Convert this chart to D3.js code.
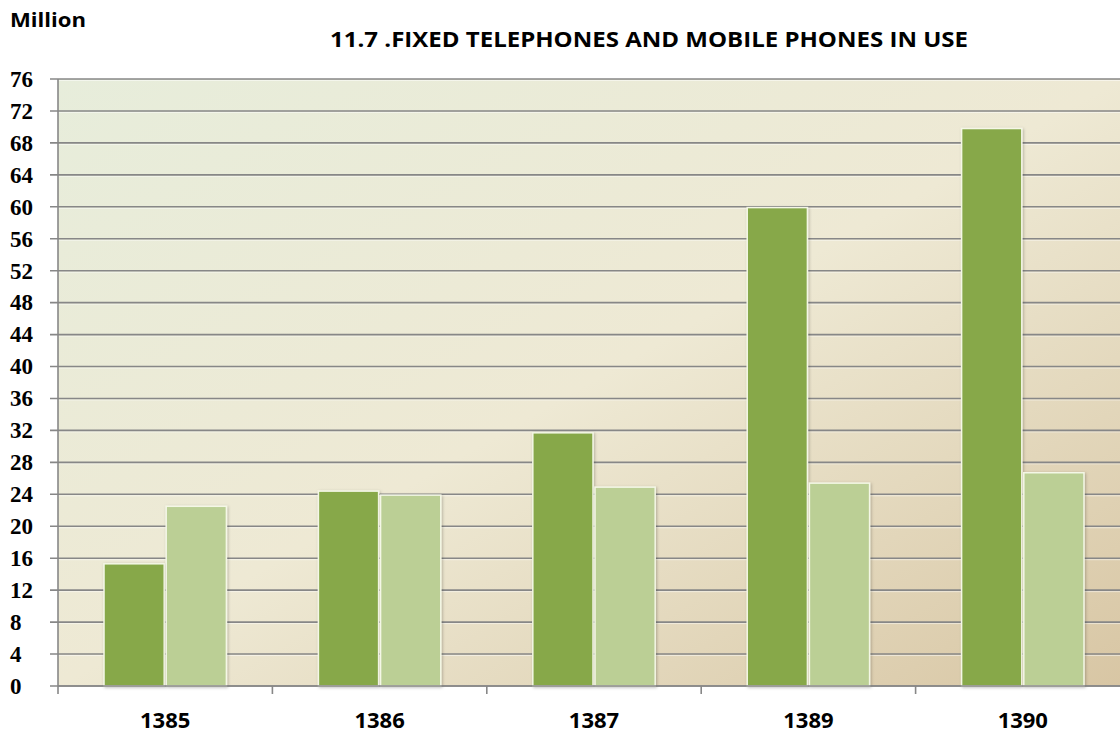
<!DOCTYPE html>
<html>
<head>
<meta charset="utf-8">
<script src="https://cdn.jsdelivr.net/npm/d3@7"></script>
<style>
  body { margin: 0; background: #fff; }
  svg { display: block; }
</style>
</head>
<body>
<div id="chart"></div>
<script>
// years on the x axis
const years = ["1385", "1386", "1387", "1389", "1390"];
// million units in use
const mobile = [15.3, 24.4, 31.7, 59.9, 69.8];
const fixed = [22.5, 23.9, 24.9, 25.4, 26.7];
const yTicks = d3.range(0, 77, 4);

const width = 1120, height = 736;
const margin = { top: 79, right: -10, bottom: 50, left: 58 };

const svg = d3.select("#chart").append("svg")
    .attr("width", width)
    .attr("height", height);

const defs = svg.append("defs");
const bg = defs.append("linearGradient")
    .attr("id", "bg")
    .attr("x1", "0%").attr("y1", "0%")
    .attr("x2", "100%").attr("y2", "100%");
bg.append("stop").attr("offset", "0%").attr("stop-color", "#e7eddb");
bg.append("stop").attr("offset", "50%").attr("stop-color", "#eee9d4");
bg.append("stop").attr("offset", "100%").attr("stop-color", "#d8c6a4");

const shadow = defs.append("filter").attr("id", "shadow")
    .attr("x", "-20%").attr("y", "-5%").attr("width", "140%").attr("height", "110%");
shadow.append("feDropShadow")
    .attr("dx", 1).attr("dy", 1).attr("stdDeviation", 1.5)
    .attr("flood-color", "#000").attr("flood-opacity", 0.25);

const x = d3.scaleBand()
    .domain(years)
    .range([margin.left, width - margin.right])
    .paddingInner(0)
    .paddingOuter(0);

const y = d3.scaleLinear()
    .domain([0, 76])
    .range([height - margin.bottom, margin.top]);

// plot background
svg.append("rect")
    .attr("x", margin.left)
    .attr("y", y(76))
    .attr("width", width - margin.left)
    .attr("height", y(0) - y(76))
    .attr("fill", "url(#bg)");

// gridlines, with a faint light line under each
const grid = svg.append("g");
grid.selectAll("line.hi")
    .data(yTicks)
    .join("line")
    .attr("class", "hi")
    .attr("x1", margin.left).attr("x2", width)
    .attr("y1", d => y(d) + 1.5).attr("y2", d => y(d) + 1.5)
    .attr("stroke", "#ffffff").attr("stroke-opacity", 0.5)
    .attr("stroke-width", 1);
grid.selectAll("line.g")
    .data(yTicks)
    .join("line")
    .attr("class", "g")
    .attr("x1", margin.left - 8)
    .attr("x2", width)
    .attr("y1", d => y(d))
    .attr("y2", d => y(d))
    .attr("stroke", "#878787")
    .attr("stroke-width", 1.6);

// y labels
svg.append("g")
    .selectAll("text")
    .data(yTicks)
    .join("text")
    .attr("x", 10)
    .attr("y", d => y(d))
    .attr("dy", "0.34em")
    .attr("font-family", "Liberation Serif, Times New Roman, serif")
    .attr("font-weight", "bold")
    .attr("font-size", "23px")
    .text(d => d);

// left axis line
svg.append("line")
    .attr("x1", margin.left).attr("x2", margin.left)
    .attr("y1", y(76)).attr("y2", y(0) + 8)
    .attr("stroke", "#878787").attr("stroke-width", 1.6);

// bars
const inner = d3.scaleBand()
    .domain(["mobile", "fixed"])
    .range([0, x.bandwidth()])
    .paddingInner(0.032)
    .paddingOuter(0.74);

const rows = years.map((yr, i) => ({ year: yr, mobile: mobile[i], fixed: fixed[i] }));
const colors = { mobile: "#87a84a", fixed: "#bbcf95" };

const groups = svg.append("g")
    .selectAll("g")
    .data(rows)
    .join("g")
    .attr("transform", d => `translate(${x(d.year)},0)`);

groups.selectAll("rect")
    .data(d => ["mobile", "fixed"].map(k => ({ key: k, value: d[k] })))
    .join("rect")
    .attr("x", d => inner(d.key))
    .attr("y", d => y(d.value))
    .attr("width", inner.bandwidth())
    .attr("height", d => y(0) - y(d.value))
    .attr("fill", d => colors[d.key])
    .attr("stroke", "#f4f7e6")
    .attr("stroke-width", 1.5)
    .attr("filter", "url(#shadow)");

// bottom axis
svg.append("line")
    .attr("x1", margin.left).attr("x2", width)
    .attr("y1", y(0)).attr("y2", y(0))
    .attr("stroke", "#878787").attr("stroke-width", 1.6);

svg.append("g")
    .selectAll("line")
    .data(years.slice(1))
    .join("line")
    .attr("x1", d => x(d)).attr("x2", d => x(d))
    .attr("y1", y(0)).attr("y2", y(0) + 8)
    .attr("stroke", "#878787").attr("stroke-width", 1.6);

svg.append("g")
    .selectAll("text")
    .data(years)
    .join("text")
    .attr("x", d => x(d) + x.bandwidth() / 2)
    .attr("y", 728)
    .attr("text-anchor", "middle")
    .attr("font-family", "Open Sans, sans-serif")
    .attr("font-weight", "bold")
    .attr("font-size", "22px")
    .text(d => d);

// titles
svg.append("text")
    .attr("x", 10).attr("y", 27)
    .attr("font-family", "Open Sans, sans-serif")
    .attr("font-weight", "bold")
    .attr("font-size", "19px")
    .attr("textLength", 76)
    .attr("lengthAdjust", "spacingAndGlyphs")
    .text("Million");

svg.append("text")
    .attr("x", 649).attr("y", 47)
    .attr("text-anchor", "middle")
    .attr("font-family", "Open Sans, sans-serif")
    .attr("font-weight", "bold")
    .attr("font-size", "21px")
    .attr("textLength", 638)
    .attr("lengthAdjust", "spacingAndGlyphs")
    .text("11.7 .FIXED TELEPHONES AND MOBILE PHONES IN USE");
</script>
</body>
</html>
